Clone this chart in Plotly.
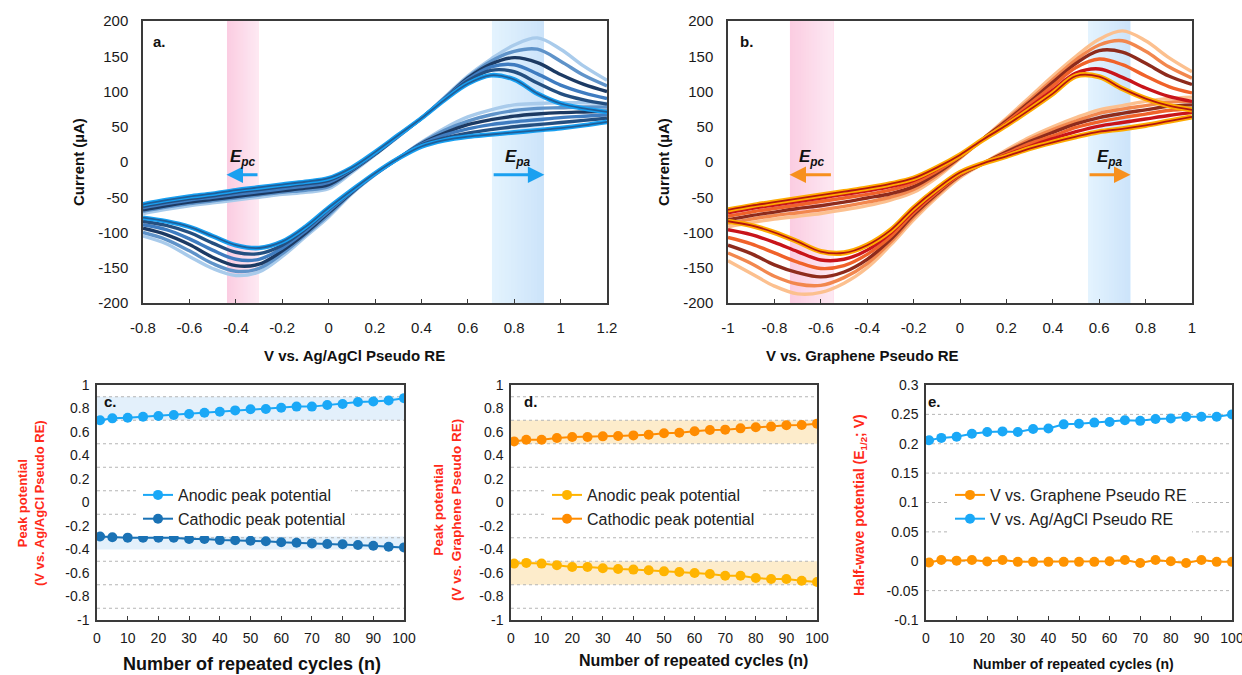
import plotly.graph_objects as go

W, H = 1242, 675
FONT = "Liberation Sans, Arial, Helvetica, sans-serif"

# ---------------- Panel a: CV vs Ag/AgCl pseudo RE ----------------
CYCLES = [100, 80, 60, 40, 20, 1]
A_V_FWD = [-0.8, -0.7, -0.6, -0.5, -0.4, -0.3, -0.2, -0.1, 0.0, 0.1, 0.2, 0.3, 0.4, 0.5, 0.6, 0.7, 0.8, 0.9, 1.0, 1.1, 1.2]
A_V_REV = [1.2, 1.1, 1.0, 0.9, 0.8, 0.7, 0.6, 0.5, 0.4, 0.3, 0.2, 0.1, 0.0, -0.1, -0.2, -0.3, -0.4, -0.5, -0.6, -0.7, -0.8]
A_I_FWD = [
    [-73, -67, -62, -58, -54, -50, -46, -43, -38, -15, 10, 36, 62, 92, 122, 146, 166, 176, 160, 136, 116],
    [-70, -64, -59, -55, -51, -47, -43, -40, -35, -13, 11, 36, 62, 91, 120, 143, 157, 160, 143, 123, 108],
    [-68, -62, -57, -53, -49, -45, -41, -37, -32, -12, 11, 37, 62, 90, 119, 139, 148, 141, 124, 110, 100],
    [-65, -59, -54, -50, -46, -42, -38, -34, -29, -11, 12, 37, 62, 90, 117, 135, 138, 125, 109, 98, 90],
    [-63, -57, -52, -48, -43, -39, -35, -31, -26, -10, 13, 38, 62, 89, 115, 130, 128, 112, 97, 88, 82],
    [-60, -54, -49, -45, -40, -36, -32, -28, -23, -8, 14, 38, 62, 88, 111, 123, 117, 97, 83, 76, 71],
]
A_I_REV = [
    [83, 84, 84, 83, 81, 74, 64, 48, 28, 5, -18, -45, -78, -106, -134, -156, -161, -151, -134, -116, -105],
    [78, 78, 77, 76, 73, 67, 58, 45, 27, 5, -18, -44, -75, -103, -130, -151, -155, -144, -126, -110, -100],
    [72, 71, 70, 68, 65, 60, 53, 41, 26, 5, -17, -43, -72, -101, -126, -145, -147, -135, -117, -103, -94],
    [67, 65, 63, 60, 57, 53, 47, 38, 25, 5, -17, -42, -70, -98, -122, -138, -138, -125, -109, -96, -89],
    [62, 59, 56, 53, 50, 46, 41, 34, 24, 5, -16, -41, -67, -95, -118, -130, -128, -115, -100, -90, -84],
    [57, 52, 48, 45, 42, 39, 36, 31, 22, 5, -16, -40, -65, -92, -113, -122, -118, -105, -92, -84, -79],
]
A_COLORS = ["#a9cbeb", "#5f93c9", "#1c3a63", "#3f7cc0", "#244f80", "#1f5f9a"]
A_EDGE = "#17a0f2"

# ---------------- Panel b: CV vs graphene pseudo RE ----------------
B_V_FWD = [-1.0, -0.9, -0.8, -0.7, -0.6, -0.5, -0.4, -0.3, -0.2, -0.1, 0.0, 0.1, 0.2, 0.3, 0.4, 0.5, 0.6, 0.7, 0.8, 0.9, 1.0]
B_V_REV = [1.0, 0.9, 0.8, 0.7, 0.6, 0.5, 0.4, 0.3, 0.2, 0.1, 0.0, -0.1, -0.2, -0.3, -0.4, -0.5, -0.6, -0.7, -0.8, -0.9, -1.0]
B_I_FWD = [
    [-92, -86, -81, -77, -73, -68, -62, -54, -43, -22, 5, 33, 62, 92, 122, 150, 174, 186, 172, 148, 128],
    [-87, -81, -76, -72, -68, -63, -57, -50, -39, -19, 6, 33, 60, 88, 117, 145, 166, 172, 157, 135, 119],
    [-82, -76, -71, -66, -62, -57, -51, -45, -35, -16, 7, 33, 58, 85, 113, 140, 158, 156, 140, 122, 110],
    [-77, -71, -66, -61, -56, -51, -46, -40, -30, -13, 8, 32, 56, 82, 108, 134, 146, 138, 122, 107, 98],
    [-72, -66, -61, -56, -51, -46, -41, -35, -26, -10, 9, 32, 54, 78, 102, 126, 132, 120, 105, 93, 86],
    [-68, -62, -57, -52, -47, -42, -37, -31, -23, -8, 10, 32, 52, 74, 97, 122, 121, 104, 90, 80, 74],
]
B_I_REV = [
    [92, 90, 86, 80, 74, 63, 50, 35, 17, -2, -22, -50, -82, -118, -150, -172, -185, -187, -176, -158, -140],
    [86, 85, 80, 75, 69, 58, 46, 32, 15, -2, -20, -47, -78, -114, -144, -164, -175, -173, -162, -144, -129],
    [81, 79, 74, 69, 63, 54, 42, 29, 14, -2, -19, -45, -75, -110, -138, -156, -163, -157, -146, -130, -118],
    [75, 73, 68, 63, 57, 49, 37, 26, 12, -2, -18, -43, -72, -106, -131, -147, -151, -142, -129, -116, -107],
    [70, 66, 61, 56, 51, 43, 33, 22, 10, -2, -17, -41, -69, -101, -125, -138, -139, -127, -114, -103, -96],
    [64, 58, 52, 47, 43, 36, 28, 19, 8, -2, -15, -38, -65, -97, -118, -129, -127, -113, -100, -90, -84],
]
B_COLORS = ["#fcc08f", "#f2874e", "#8e2b1c", "#f0622a", "#c8141a", "#b3160f"]
B_EDGE = "#ffab00"

# ---------------- Panels c, d, e ----------------
N_CYCLES = [1, 5, 10, 15, 20, 25, 30, 35, 40, 45, 50, 55, 60, 65, 70, 75, 80, 85, 90, 95, 100]
C_ANODIC = [0.70, 0.716, 0.721, 0.730, 0.736, 0.744, 0.753, 0.764, 0.773, 0.784, 0.793,
            0.796, 0.807, 0.816, 0.816, 0.830, 0.839, 0.856, 0.859, 0.868, 0.888]
C_CATHODIC = [-0.29, -0.296, -0.299, -0.299, -0.299, -0.299, -0.31, -0.31, -0.32, -0.322, -0.325,
              -0.33, -0.338, -0.342, -0.348, -0.353, -0.356, -0.362, -0.368, -0.376, -0.382]
D_ANODIC = [-0.52, -0.514, -0.52, -0.534, -0.549, -0.549, -0.56, -0.566, -0.571, -0.577, -0.586,
            -0.591, -0.6, -0.609, -0.623, -0.623, -0.643, -0.651, -0.651, -0.666, -0.677]
D_CATHODIC = [0.52, 0.534, 0.534, 0.549, 0.557, 0.557, 0.563, 0.566, 0.571, 0.577, 0.589,
              0.594, 0.606, 0.617, 0.62, 0.631, 0.64, 0.646, 0.657, 0.66, 0.671]
E_GRAPHENE = [-0.002, 0.002, 0.001, 0.002, -0.0005, 0.002, -0.001, -0.001, -0.001, -0.001, -0.001,
              -0.001, 0.0, 0.002, -0.003, 0.002, 0.0, -0.003, 0.002, -0.001, -0.001]
E_AGCL = [0.206, 0.210, 0.212, 0.217, 0.220, 0.221, 0.220, 0.225, 0.226, 0.233, 0.234,
          0.236, 0.237, 0.240, 0.239, 0.242, 0.243, 0.246, 0.246, 0.246, 0.250]

# tick values
A_XTICKS = [-0.8, -0.6, -0.4, -0.2, 0, 0.2, 0.4, 0.6, 0.8, 1, 1.2]
B_XTICKS = [-1, -0.8, -0.6, -0.4, -0.2, 0, 0.2, 0.4, 0.6, 0.8, 1]
CV_YTICKS = [-200, -150, -100, -50, 0, 50, 100, 150, 200]
N_TICKS = [0, 10, 20, 30, 40, 50, 60, 70, 80, 90, 100]
CD_YTICKS = [-1, -0.8, -0.6, -0.4, -0.2, 0, 0.2, 0.4, 0.6, 0.8, 1]
CD_GRID = [-0.9, -0.7, -0.5, -0.3, -0.1, 0.1, 0.3, 0.5, 0.7, 0.9]
E_YTICKS = [-0.1, -0.05, 0, 0.05, 0.1, 0.15, 0.2, 0.25, 0.3]
E_GRID = [-0.05, 0, 0.05, 0.1, 0.15, 0.2, 0.25]


def lbl(v):
    return f"{round(v, 3):g}"


def px_x(p):
    return p / W


def px_y(p):
    return 1 - p / H


fig = go.Figure()

# CV traces
for xref, yref, vf, vr, IF, IR, cols, edge, ew in [
    ("x", "y", A_V_FWD, A_V_REV, A_I_FWD, A_I_REV, A_COLORS, A_EDGE, 4.6),
    ("x2", "y2", B_V_FWD, B_V_REV, B_I_FWD, B_I_REV, B_COLORS, B_EDGE, 5.2),
]:
    for k, cyc in enumerate(CYCLES):
        xs = vf + [None] + vr
        ys = IF[k] + [None] + IR[k]
        if cyc == 1:
            fig.add_trace(go.Scatter(x=xs, y=ys, mode="lines",
                                     line=dict(color=edge, width=ew, shape="spline", smoothing=1.0),
                                     xaxis=xref, yaxis=yref, showlegend=False, hoverinfo="skip"))
        fig.add_trace(go.Scatter(
            x=xs, y=ys, mode="lines",
            line=dict(color=cols[k], width=1.8 if cyc == 1 else 3.4, shape="spline", smoothing=1.0),
            xaxis=xref, yaxis=yref, showlegend=False, name=f"cycle {cyc}", hoverinfo="skip"))

MS = 10
# c
fig.add_trace(go.Scatter(x=N_CYCLES, y=C_ANODIC, mode="lines+markers", name="Anodic peak potential",
                         line=dict(color="#1aa8f7", width=2), marker=dict(size=MS, color="#1aa8f7"),
                         xaxis="x3", yaxis="y3", legend="legend"))
fig.add_trace(go.Scatter(x=N_CYCLES, y=C_CATHODIC, mode="lines+markers", name="Cathodic peak potential",
                         line=dict(color="#1a72b5", width=2), marker=dict(size=MS, color="#1a72b5"),
                         xaxis="x3", yaxis="y3", legend="legend"))
# d
fig.add_trace(go.Scatter(x=N_CYCLES, y=D_ANODIC, mode="lines+markers", name="Anodic peak potential",
                         line=dict(color="#ffb400", width=2), marker=dict(size=MS, color="#ffb400"),
                         xaxis="x4", yaxis="y4", legend="legend2"))
fig.add_trace(go.Scatter(x=N_CYCLES, y=D_CATHODIC, mode="lines+markers", name="Cathodic peak potential",
                         line=dict(color="#ff8c00", width=2), marker=dict(size=MS, color="#ff8c00"),
                         xaxis="x4", yaxis="y4", legend="legend2"))
# e
fig.add_trace(go.Scatter(x=N_CYCLES, y=E_GRAPHENE, mode="lines+markers", name="V vs. Graphene Pseudo RE",
                         line=dict(color="#ff9300", width=2), marker=dict(size=MS, color="#ff9300"),
                         xaxis="x5", yaxis="y5", legend="legend3"))
fig.add_trace(go.Scatter(x=N_CYCLES, y=E_AGCL, mode="lines+markers", name="V vs. Ag/AgCl Pseudo RE",
                         line=dict(color="#1aa8f7", width=2), marker=dict(size=MS, color="#1aa8f7"),
                         xaxis="x5", yaxis="y5", legend="legend3"))

shapes = []


def hexrgb(h):
    h = h.lstrip("#")
    return tuple(int(h[i:i + 2], 16) for i in (0, 2, 4))


def gradient_band(xref, yref, x0, x1, c0, c1, n=16):
    r0, r1 = hexrgb(c0), hexrgb(c1)
    for i in range(n):
        t = i / (n - 1)
        col = "rgb(%d,%d,%d)" % tuple(round(a + (b - a) * t) for a, b in zip(r0, r1))
        xa = x0 + (x1 - x0) * i / n
        shapes.append(dict(type="rect", xref=xref, yref=yref + " domain", x0=xa, x1=x1, y0=0, y1=1,
                           fillcolor=col, line=dict(width=0), layer="below"))


gradient_band("x", "y", -0.438, -0.304, "#fbcde2", "#fde8f2")
gradient_band("x", "y", 0.704, 0.928, "#e3f3fe", "#cde4fa")
gradient_band("x2", "y2", -0.733, -0.547, "#fbcde2", "#fde8f2")
gradient_band("x2", "y2", 0.552, 0.733, "#e3f3fe", "#cde4fa")

# bands in c and d
for y0, y1 in [(0.7, 0.9), (-0.29, -0.40)]:
    shapes.append(dict(type="rect", xref="x3 domain", yref="y3", x0=0, x1=1, y0=y0, y1=y1,
                       fillcolor="#e3f0fb", line=dict(width=0), layer="below"))
for y0, y1 in [(0.5, 0.7), (-0.5, -0.7)]:
    shapes.append(dict(type="rect", xref="x4 domain", yref="y4", x0=0, x1=1, y0=y0, y1=y1,
                       fillcolor="#fdeccb", line=dict(width=0), layer="below"))
# dotted grid lines
for ax, vals in [("3", CD_GRID), ("4", CD_GRID), ("5", E_GRID)]:
    for v in vals:
        shapes.append(dict(type="line", xref=f"x{ax} domain", yref=f"y{ax}", x0=0, x1=1, y0=v, y1=v,
                           line=dict(color="#b5b5b5", width=1, dash="dot"), layer="below"))

annotations = []
# Epc / Epa arrows
for xref, yref, tail, head, col in [
    ("x", "y", -0.30, -0.44, "#1aa0f0"), ("x", "y", 0.705, 0.93, "#1aa0f0"),
    ("x2", "y2", -0.55, -0.735, "#f7901e"), ("x2", "y2", 0.552, 0.735, "#f7901e"),
]:
    annotations.append(dict(x=head, y=-18, ax=tail, ay=-18, xref=xref, yref=yref, axref=xref, ayref=yref,
                            showarrow=True, arrowhead=2, arrowsize=1.1, arrowwidth=3, arrowcolor=col,
                            standoff=0, text=""))
for xref, yref, x, sub in [("x", "y", -0.37, "pc"), ("x", "y", 0.815, "pa"),
                           ("x2", "y2", -0.64, "pc"), ("x2", "y2", 0.645, "pa")]:
    annotations.append(dict(x=x, y=5, xref=xref, yref=yref, showarrow=False,
                            text=f"<b><i>E</i></b><sub><b><i>{sub}</i></b></sub>",
                            font=dict(size=17, color="#111", family=FONT)))

# panel letters
for txt, x, y in [("a.", 159, 42), ("b.", 746, 41), ("c.", 110, 402), ("d.", 530, 402), ("e.", 934, 402)]:
    annotations.append(dict(x=px_x(x), y=px_y(y), xref="paper", yref="paper", showarrow=False,
                            text=f"<b>{txt}</b>", font=dict(size=15, color="#111", family=FONT)))

# axis titles
annotations += [
    dict(x=px_x(354), y=px_y(355), text="<b>V vs. Ag/AgCl Pseudo RE</b>", font=dict(size=15)),
    dict(x=px_x(862), y=px_y(355), text="<b>V vs. Graphene Pseudo RE</b>", font=dict(size=15)),
    dict(x=px_x(78), y=px_y(162), text="<b>Current (µA)</b>", textangle=-90, font=dict(size=15)),
    dict(x=px_x(663), y=px_y(162), text="<b>Current (µA)</b>", textangle=-90, font=dict(size=15)),
    dict(x=px_x(252), y=px_y(664), text="<b>Number of repeated cycles (n)</b>", font=dict(size=18)),
    dict(x=px_x(693), y=px_y(660), text="<b>Number of repeated cycles (n)</b>", font=dict(size=16)),
    dict(x=px_x(1073), y=px_y(664), text="<b>Number of repeated cycles (n)</b>", font=dict(size=14)),
    dict(x=px_x(31), y=px_y(503), text="<b>Peak potential<br>(V vs. Ag/AgCl Pseudo RE)</b>",
         textangle=-90, font=dict(size=13, color="#ff2a1a")),
    dict(x=px_x(447), y=px_y(510), text="<b>Peak potential<br>(V vs. Graphene Pseudo RE)</b>",
         textangle=-90, font=dict(size=13.5, color="#ff2a1a")),
    dict(x=px_x(860), y=px_y(505), text="<b>Half-wave potential (E<sub>1/2</sub>; V)</b>",
         textangle=-90, font=dict(size=14, color="#ff2a1a")),
]
for a in annotations:
    a.setdefault("xref", "paper")
    a.setdefault("yref", "paper")
    a.setdefault("showarrow", False)
    if not a.get("showarrow"):
        a.setdefault("xanchor", "center")
        a.setdefault("yanchor", "middle")
    f = a.setdefault("font", {})
    f.setdefault("family", FONT)
    f.setdefault("color", "#111")

axline = dict(showline=True, linecolor="#3a3a3a", linewidth=1.5, mirror=True, showgrid=False,
              zeroline=False, ticks="inside", ticklen=4, tickcolor="#3a3a3a", tickwidth=1,
              automargin=False, ticklabeloverflow="allow")


def xax(domain, anchor, ticks, rng, size, standoff):
    return dict(axline, domain=domain, anchor=anchor, range=rng, tickmode="array", tickvals=ticks,
                ticktext=[lbl(t) for t in ticks], ticklabelstandoff=standoff,
                tickfont=dict(size=size, color="#1a1a1a", family=FONT))


def yax(domain, anchor, ticks, rng, size, standoff):
    return dict(axline, domain=domain, anchor=anchor, range=rng, tickmode="array", tickvals=ticks,
                ticktext=[lbl(t) for t in ticks], ticks="", ticklabelstandoff=standoff,
                tickfont=dict(size=size, color="#1a1a1a", family=FONT))


top_dom = [px_y(303), px_y(21)]
bot_dom = [px_y(620), px_y(385)]

leg = dict(xanchor="left", yanchor="top", bgcolor="white",
           font=dict(size=16, family=FONT, color="#222"), tracegroupgap=0, itemwidth=30)

layout = dict(
    width=W, height=H, margin=dict(l=0, r=0, t=0, b=0, autoexpand=False),
    paper_bgcolor="white", plot_bgcolor="white",
    font=dict(family=FONT, color="#111"),
    xaxis=xax([px_x(143), px_x(607)], "y", A_XTICKS, [-0.8, 1.2], 15, 10),
    yaxis=yax(top_dom, "x", CV_YTICKS, [-200, 200], 15, 10),
    xaxis2=xax([px_x(728), px_x(1192)], "y2", B_XTICKS, [-1, 1], 15, 10),
    yaxis2=yax(top_dom, "x2", CV_YTICKS, [-200, 200], 15, 10),
    xaxis3=xax([px_x(97), px_x(404)], "y3", N_TICKS, [0, 100], 14, 4),
    yaxis3=yax(bot_dom, "x3", CD_YTICKS, [-1, 1], 14, 3),
    xaxis4=xax([px_x(511), px_x(817)], "y4", N_TICKS, [0, 100], 14, 4),
    yaxis4=yax(bot_dom, "x4", CD_YTICKS, [-1, 1], 14, 3),
    xaxis5=xax([px_x(926), px_x(1232)], "y5", N_TICKS, [0, 100], 14, 4),
    yaxis5=yax(bot_dom, "x5", E_YTICKS, [-0.1, 0.3], 14, 3),
    shapes=shapes, annotations=annotations,
    legend=dict(leg, x=px_x(138), y=px_y(478)),
    legend2=dict(leg, x=px_x(547), y=px_y(478)),
    legend3=dict(leg, x=px_x(950), y=px_y(478)),
)
fig.update_layout(**layout)
fig.write_html("out.html", config={"displayModeBar": False},
               post_script="document.body.style.margin='0';document.body.style.overflow='hidden';")
